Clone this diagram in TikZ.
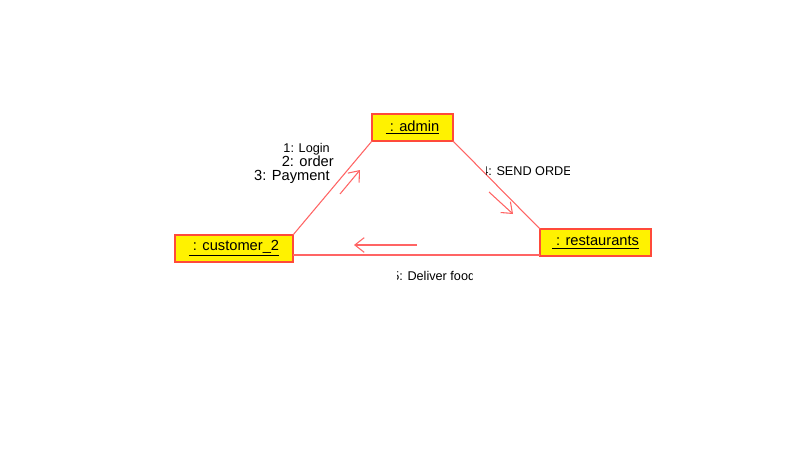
\documentclass[tikz,border=0pt]{standalone}
\usepackage{fontspec}
\setmainfont{Liberation Sans}
\usetikzlibrary{arrows.meta,positioning}
\definecolor{boxred}{HTML}{FF4A3A}
\definecolor{linkred}{HTML}{FF6464}
\tikzset{object/.style={draw=boxred, line width=1.1pt, fill=yellow, inner sep=0pt, outer sep=0pt,
  minimum height=20.25pt, font=\fontsize{11}{13}\selectfont},
link/.style={draw=linkred, line width=0.8pt},
msgarrow/.style={draw=linkred, line width=0.8pt, -{Straight Barb[length=7pt,width=11pt]}},
msg/.style={inner sep=0pt, font=\fontsize{9.5}{11}\selectfont}}

\begin{document}
\begin{tikzpicture}[x=0.75pt, y=-0.75pt]
\useasboundingbox (0,0) rectangle (795,457);

\node[object, minimum width=60.75pt] (admin) at (412.5,127.5) {\underline{~: admin}};
\node[object, minimum width=88.5pt] (customer) at (234,248.5) {\underline{~: customer\_2}};
\node[object, minimum width=83.25pt] (restaurants) at (595.5,242.5) {\underline{~: restaurants}};

\draw[link] (customer.north east) -- (admin.south west);
\draw[link] (admin.south east) -- (restaurants.north west);
\draw[link] (customer.east |- 0,255) -- (restaurants.west |- 0,255);

%message arrows
\coordinate (ordtail) at (340,194);
\coordinate (ordhead) at (360,170);
\draw[msgarrow] (ordtail) -- (ordhead);
\coordinate (sendtail) at (489,192);
\coordinate (sendhead) at (513,214);
\draw[msgarrow] (sendtail) -- (sendhead);
\coordinate (deltail) at (417,245);
\coordinate (delhead) at (354,245);
\draw[msgarrow] (deltail) -- (delhead);

\node[msg, anchor=base east] (login) at (330,152.5) {1: Login};
\node[msg, anchor=base east, font=\fontsize{11}{13}\selectfont] (order) at (334,166.5) {2: order};
\node[msg, anchor=base east, font=\fontsize{11}{13}\selectfont] (payment) at (330,180.5) {3: Payment};

\begin{scope}
  \clip (486,150) rectangle (569,190);
  \node[msg, anchor=base west] (sendorder) at (481,175) {4: SEND ORDER};
\end{scope}
\begin{scope}
  \clip (397,262) rectangle (472,290);
  \node[msg, anchor=base west] (deliver) at (392,280) {5: Deliver food};
\end{scope}

\end{tikzpicture}
\end{document}
